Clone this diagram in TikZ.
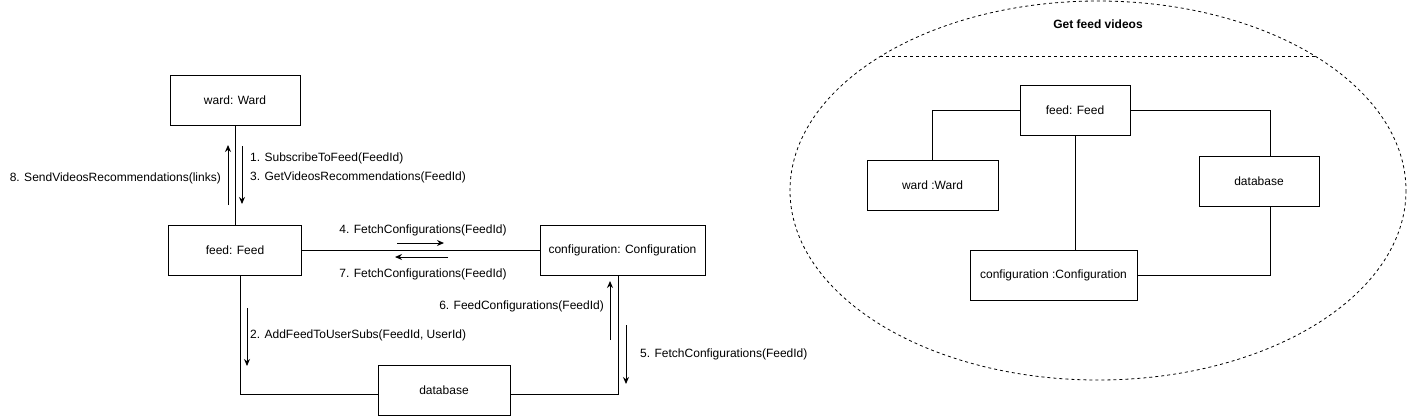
\documentclass[tikz,border=0pt]{standalone}
\usepackage{fontspec}
\setmainfont{Liberation Sans}
\usetikzlibrary{arrows.meta}
\begin{document}
\begin{tikzpicture}[x=1pt,y=-1pt,
  every node/.style={font=\fontsize{12}{14}\selectfont},
  obj/.style={draw,line width=1pt,inner sep=0pt,align=center},
  link/.style={draw,line width=1pt},
  msg/.style={line width=1pt,-{Stealth[length=7pt,width=6pt]}},
  lbl/.style={inner sep=0pt}]
\useasboundingbox (0,0) rectangle (1408,416);
% ---------- left diagram ----------
\node[obj,minimum width=130pt,minimum height=50pt] (ward) at (235,100) {ward: Ward};
\node[obj,minimum width=133pt,minimum height=50pt] (feed) at (235,250) {feed: Feed};
\node[obj,minimum width=165pt,minimum height=50pt] (conf) at (622.5,250) {configuration: Configuration};
\node[obj,minimum width=132pt,minimum height=50pt] (db) at (444,390) {database};

\draw[link] (ward.south) -- (feed.north);
\draw[link] (feed.east) -- (conf.west);
\draw[link] ([xshift=5pt]feed.south) |- ([yshift=-4pt]db.west);
\draw[link] ([yshift=-4pt]db.east) -| ([xshift=-4.5pt]conf.south);

% message arrows
\coordinate (a8s) at (228,205); \coordinate (a8e) at (228,145);
\coordinate (a1s) at (242,146); \coordinate (a1e) at (242,204);
\coordinate (a4s) at (397,243); \coordinate (a4e) at (444,243);
\coordinate (a7s) at (448,257); \coordinate (a7e) at (395,257);
\coordinate (a2s) at (247,308); \coordinate (a2e) at (247,366);
\coordinate (a6s) at (610,340); \coordinate (a6e) at (610,281);
\coordinate (a5s) at (626,325); \coordinate (a5e) at (626,384);
\draw[msg] (a8s) -- (a8e);
\draw[msg] (a1s) -- (a1e);
\draw[msg] (a4s) -- (a4e);
\draw[msg] (a7s) -- (a7e);
\draw[msg] (a2s) -- (a2e);
\draw[msg] (a6s) -- (a6e);
\draw[msg] (a5s) -- (a5e);

\node[lbl,anchor=east] (l8) at (221,178) {8. SendVideosRecommendations(links)};
\node[lbl,anchor=west] (l1) at (250,158) {1. SubscribeToFeed(FeedId)};
\node[lbl,anchor=west] (l3) at (250,177) {3. GetVideosRecommendations(FeedId)};
\node[lbl] (l4) at (423,230) {4. FetchConfigurations(FeedId)};
\node[lbl] (l7) at (423,274) {7. FetchConfigurations(FeedId)};
\node[lbl,anchor=west] (l2) at (250,335) {2. AddFeedToUserSubs(FeedId, UserId)};
\node[lbl,anchor=east] (l6) at (604,306) {6. FeedConfigurations(FeedId)};
\node[lbl,anchor=west] (l5) at (640,354) {5. FetchConfigurations(FeedId)};

% ---------- right diagram ----------
\draw[line width=0.8pt,dash pattern=on 3pt off 3pt] (1098,190.5) ellipse [x radius=308, y radius=189.5];
\draw[line width=0.8pt,dash pattern=on 3pt off 3pt] (880,56) -- (1316,56);
\node[lbl,font=\fontsize{12}{14}\selectfont\bfseries] (title) at (1098,24) {Get feed videos};

\node[obj,minimum width=110pt,minimum height=50pt] (feed2) at (1075,110) {feed: Feed};
\node[obj,minimum width=131pt,minimum height=50pt] (ward2) at (932.5,185) {ward :Ward};
\node[obj,minimum width=120pt,minimum height=50pt] (db2) at (1259,181) {database};
\node[obj,minimum width=167pt,minimum height=50pt] (conf2) at (1053.5,275) {configuration :Configuration};

\draw[link] (feed2.west) -| (ward2.north);
\draw[link] (feed2.east) -| ([xshift=11pt]db2.north);
\draw[link] (feed2.south) -- (feed2.south |- conf2.north);
\draw[link] ([xshift=11pt]db2.south) |- (conf2.east);
\end{tikzpicture}
\end{document}
